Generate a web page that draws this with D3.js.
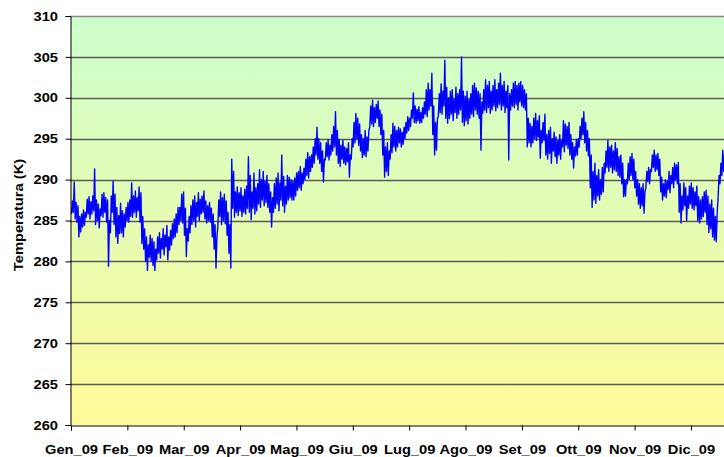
<!DOCTYPE html>
<html>
<head>
<meta charset="utf-8">
<script src="https://cdn.jsdelivr.net/npm/d3@7"></script>
<style>
  body { margin: 0; background: #fff; }
  svg { display: block; }
  text { font-family: "Liberation Sans", Arial, sans-serif; font-weight: bold; fill: #000; }
</style>
</head>
<body>
<div id="chart"></div>
<script>
// month labels (category axis, one per month)
const months = ["Gen_09","Feb_09","Mar_09","Apr_09","Mag_09","Giu_09","Lug_09","Ago_09","Set_09","Ott_09","Nov_09","Dic_09"];
const yTicks = [260,265,270,275,280,285,290,295,300,305,310];

// daily minimum temperature (K), day 0 = 1 Jan
const dayLow = [
  285.8,286.0,285.2,284.8,283.0,283.6,284.2,284.4,285.4,285.8,285.2,285.8,286.2,284.5,285.0,284.1,285.6,285.4,286.0,284.8,
  279.4,283.5,286.0,284.5,283.0,282.2,283.4,283.5,283.0,284.2,285.0,
  284.8,285.5,285.4,286.0,285.4,286.2,284.8,282.2,281.5,280.0,278.9,280.5,280.0,279.5,278.9,280.2,281.0,280.4,281.5,280.8,
  281.8,280.2,281.4,282.0,282.8,283.0,283.5,284.5,
  285.0,284.7,283.2,280.6,282.5,283.5,284.5,285.0,284.2,285.5,285.0,285.8,286.0,285.2,284.7,285.0,284.8,283.0,281.5,279.2,
  284.2,285.5,284.5,285.0,284.6,283.2,281.0,279.2,286.5,285.4,286.0,
  285.6,286.2,285.5,286.0,285.8,286.5,286.0,285.1,286.5,285.8,286.2,287.0,286.6,287.5,286.8,287.2,286.6,286.0,284.2,286.0,
  286.5,287.0,286.2,287.5,286.8,286.0,287.0,287.5,287.8,287.5,
  287.5,288.0,288.7,289.0,288.7,289.5,290.0,290.5,290.2,291.0,291.5,292.0,293.0,292.5,292.0,291.0,289.7,292.4,292.8,292.4,
  293.0,293.5,294.0,293.0,292.0,291.6,292.5,292.0,291.8,292.2,290.3,
  292.5,294.0,294.5,295.0,294.2,293.5,292.7,293.0,292.8,293.5,296.4,296.8,296.5,297.0,297.5,296.5,295.5,293.0,290.3,291.0,
  290.5,292.5,293.3,294.0,293.5,294.0,294.5,294.0,294.3,295.0,
  295.7,296.0,296.5,297.5,297.0,296.9,297.2,296.9,297.0,297.5,298.0,297.7,298.5,299.0,295.5,293.0,293.6,297.7,298.2,298.0,
  299.0,297.5,296.9,297.5,298.0,297.2,298.2,297.5,298.0,298.5,297.0,
  296.6,297.2,296.8,297.5,298.0,297.7,298.5,298.0,297.5,293.6,298.1,298.5,298.2,298.8,298.1,298.5,299.0,298.4,298.8,299.2,
  298.5,299.0,298.2,298.8,292.4,298.5,299.0,298.8,299.2,298.5,299.5,
  299.0,298.8,298.5,294.0,294.5,294.0,294.5,295.0,294.8,295.2,292.6,294.5,294.8,293.0,292.5,293.2,292.0,293.5,292.8,292.0,
  293.0,292.5,294.0,293.4,294.2,293.8,293.0,292.5,291.4,292.9,
  293.0,294.0,295.0,295.5,294.5,293.5,292.9,289.0,286.6,287.5,287.1,288.0,287.5,288.2,288.5,290.8,291.5,291.0,291.5,290.8,
  291.2,291.0,290.5,290.3,289.5,287.9,288.0,289.5,290.0,290.5,290.0,
  289.0,288.0,287.0,286.5,286.8,285.9,289.0,289.8,289.5,291.0,291.5,291.0,291.2,290.5,288.5,287.5,288.0,287.8,288.8,288.4,
  289.5,289.0,290.0,289.5,286.0,284.7,286.3,286.8,285.0,286.5,
  287.0,286.5,286.3,286.8,285.0,284.7,285.2,285.5,286.0,284.5,283.5,284.0,283.0,282.6,282.4,287.9,289.5,290.5,291.0
];

// daily maximum temperature (K)
const dayHigh = [
  287.4,289.7,287.2,286.8,285.5,285.8,286.3,286.0,287.6,287.9,287.3,288.0,291.3,287.5,287.0,286.4,288.2,288.4,287.8,287.5,
  285.0,288.0,289.8,288.2,286.6,285.6,287.1,286.2,285.8,286.6,287.2,
  287.5,289.6,288.0,288.6,287.8,289.1,288.4,285.5,284.0,283.0,282.0,283.2,282.8,282.4,281.5,283.0,283.5,282.8,284.0,283.2,
  284.4,283.0,283.8,284.6,285.2,285.8,286.6,286.6,
  288.2,288.5,286.5,284.0,285.5,286.8,287.5,288.0,287.2,288.4,287.6,288.0,288.6,287.4,286.8,287.2,286.5,285.8,284.5,283.0,
  287.5,288.5,287.8,288.2,287.4,286.0,284.5,292.5,291.0,288.5,289.1,
  288.4,289.0,288.0,288.8,289.2,292.8,290.5,288.5,290.8,289.0,289.5,291.2,290.0,291.0,289.8,290.5,289.5,288.5,287.8,289.5,
  290.2,290.8,289.6,293.0,290.4,289.2,290.5,290.3,290.0,289.8,
  290.2,290.8,291.0,291.6,290.8,291.4,292.5,293.3,292.8,293.0,294.0,295.0,296.4,295.0,294.5,293.5,292.5,294.5,294.9,294.2,
  295.5,296.5,298.3,296.0,294.9,294.2,294.8,294.0,293.8,294.5,293.0,
  295.0,297.0,298.1,297.5,296.8,295.5,295.0,296.0,295.2,296.0,299.0,299.7,298.8,299.2,299.6,298.5,298.0,296.0,294.0,294.5,
  293.5,295.5,296.9,296.5,296.0,296.4,296.2,295.8,296.4,297.0,
  297.7,297.5,298.5,300.6,299.0,298.6,298.9,298.2,298.8,299.5,301.0,301.8,301.0,303.0,299.0,297.0,297.5,300.5,301.7,300.8,
  304.6,301.3,300.0,300.8,301.0,299.8,301.3,300.5,301.0,305.0,300.8,
  300.2,300.8,299.8,300.5,301.5,301.8,301.2,300.8,300.5,299.5,301.0,302.2,301.5,302.0,300.8,301.5,302.2,301.0,301.8,303.0,
  301.5,302.0,300.8,301.5,300.5,301.0,301.8,302.0,301.5,301.8,302.0,
  301.5,301.0,300.5,297.5,296.9,296.5,297.5,298.1,297.2,297.8,296.0,297.0,298.0,295.5,296.0,296.4,295.0,295.8,295.2,294.8,
  295.5,294.8,297.2,296.8,296.5,297.0,295.5,294.5,294.0,294.9,
  295.0,296.5,297.5,298.3,297.0,296.0,295.0,293.0,291.0,292.0,290.5,291.2,290.0,291.5,292.0,293.5,294.8,294.0,294.2,293.5,
  294.5,293.8,292.8,293.0,292.0,290.0,290.0,292.0,292.8,293.2,292.5,
  291.0,290.0,289.5,289.0,289.5,288.5,291.0,291.5,291.2,293.0,293.6,293.0,293.2,292.5,290.3,289.5,290.0,289.8,291.0,290.5,
  291.5,292.0,291.8,292.1,289.5,288.0,289.6,289.0,288.0,289.2,
  289.6,289.0,288.5,289.2,287.9,287.5,287.9,288.5,288.7,288.0,287.0,287.5,286.5,285.5,286.0,290.5,292.0,293.6,293.2
];

const width = 724, height = 457;
const monthW = 56.36;
const stretch = 1.13; // labels in the original are a little wider than Arial

const svg = d3.select("#chart").append("svg")
    .attr("width", width)
    .attr("height", height);

// x: days, months evenly spaced like the original category axis
const xScale = d3.scaleLinear().domain([0, 365]).range([71, 71 + monthW * 12]);
const yScale = d3.scaleLinear().domain([260, 310]).range([425, 16]);

// background gradient green -> yellow
const defs = svg.append("defs");
const grad = defs.append("linearGradient")
    .attr("id", "bgGrad")
    .attr("x1", 0).attr("y1", 0).attr("x2", 0).attr("y2", 1);
grad.append("stop").attr("offset", "0%").attr("stop-color", "#ccffcc");
grad.append("stop").attr("offset", "100%").attr("stop-color", "#fffa99");

svg.append("rect")
    .attr("x", 70.5)
    .attr("y", yScale(310))
    .attr("width", xScale(365) - 70.5)
    .attr("height", yScale(260) - yScale(310))
    .attr("fill", "url(#bgGrad)");

// gridlines
svg.append("g")
    .selectAll("line")
    .data(yTicks.filter(d => d > 260))
    .join("line")
    .attr("x1", 70)
    .attr("x2", xScale(365))
    .attr("y1", d => Math.round(yScale(d)) + 0.5)
    .attr("y2", d => Math.round(yScale(d)) + 0.5)
    .attr("stroke", d => d === 310 ? "#8a8a8a" : "#5a5a5a")
    .attr("stroke-width", 1.3);

// data line: daily min and max alternate, like the dense hourly trace
const points = [];
dayLow.forEach((lo, i) => {
    points.push([i + 0.25, lo]);
    points.push([i + 0.75, dayHigh[i]]);
});

const line = d3.line()
    .x(d => xScale(d[0]))
    .y(d => yScale(d[1]));

svg.append("path")
    .datum(points)
    .attr("d", line)
    .attr("fill", "none")
    .attr("stroke", "#0000ff")
    .attr("stroke-width", 1.4)
    .attr("stroke-linejoin", "round");

// y axis
const yAxis = d3.axisLeft(yScale)
    .tickValues(yTicks)
    .tickSize(5)
    .tickFormat(d3.format("d"));

const yAxisG = svg.append("g")
    .attr("transform", "translate(70.5,0)")
    .call(yAxis);
yAxisG.select(".domain").attr("stroke", "#000");
yAxisG.selectAll(".tick line").attr("stroke", "#000");
yAxisG.selectAll(".tick text")
    .style("font-size", "13px")
    .attr("font-family", null)
    .attr("x", 0)
    .attr("transform", `translate(-12.5,0) scale(${stretch},1)`);

// x axis: month ticks, labels under the ticks
const monthScale = d3.scaleLinear().domain([0, 12]).range([71, 71 + monthW * 12]);
const xAxis = d3.axisBottom(monthScale)
    .tickValues(d3.range(0, 12))
    .tickSize(5)
    .tickPadding(14)
    .tickFormat(i => months[i]);

const xAxisG = svg.append("g")
    .attr("transform", "translate(0,425.5)")
    .call(xAxis);
xAxisG.select(".domain").attr("stroke", "#000");
xAxisG.selectAll(".tick line").attr("stroke", "#000");
xAxisG.selectAll(".tick text")
    .style("font-size", "13px")
    .attr("font-family", null)
    .attr("transform", `scale(${stretch},1)`);

// axis title
svg.append("text")
    .attr("transform", `translate(23,215) rotate(-90) scale(${stretch},1)`)
    .attr("text-anchor", "middle")
    .style("font-size", "13px")
    .text("Temperatura (K)");
</script>
</body>
</html>
